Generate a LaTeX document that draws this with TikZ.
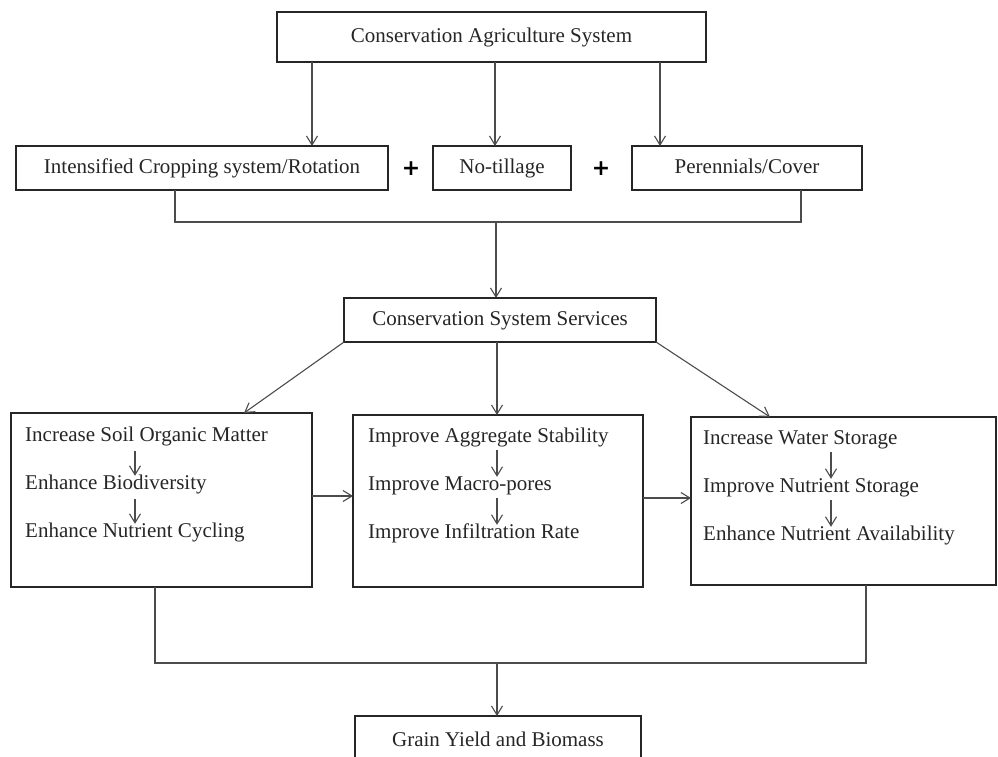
\documentclass[tikz,border=0pt]{standalone}
\usepackage{fontspec}
\setmainfont{Liberation Serif}
\newfontfamily\plusfont{DejaVu Sans}
\usetikzlibrary{arrows.meta,calc}
\begin{document}
\begin{tikzpicture}[x=1pt,y=-1pt,
  box/.style={draw=black!85,line width=1.8pt,fill=white,inner sep=0pt,outer sep=0pt,anchor=north west,
    font=\fontsize{21}{25}\selectfont,text=black!85,text height=14pt,text depth=4pt},
  item/.style={anchor=west,inner sep=0pt,font=\fontsize{21}{25}\selectfont,text=black!85,text height=14pt,text depth=4pt},
  conn/.style={draw=black!70,line width=1.1pt},
  arr/.style={conn,-{Straight Barb[length=9pt,width=11pt,line width=1.1pt]}},
  plus/.style={inner sep=0pt,font=\plusfont\bfseries\fontsize{22}{22}\selectfont}]
\useasboundingbox (0,0) rectangle (998,756);
\clip (0,0) rectangle (998,756);
% boxes
\node[box,minimum width=429pt,minimum height=50pt] (top) at (277,12) {Conservation Agriculture System};
\node[box,minimum width=372pt,minimum height=44pt] (crop) at (16,146) {Intensified Cropping system/Rotation};
\node[box,minimum width=138pt,minimum height=44pt] (notill) at (433,146) {No-tillage};
\node[box,minimum width=230pt,minimum height=44pt] (peren) at (632,146) {Perennials/Cover};
\node[plus] (p1) at (411,169) {+};
\node[plus] (p2) at (601,169) {+};
\node[box,minimum width=312pt,minimum height=44pt] (svc) at (344,298) {Conservation System Services};
\node[box,minimum width=301pt,minimum height=174pt] (b1) at (11,413) {};
\node[box,minimum width=290pt,minimum height=172pt] (b2) at (353,415) {};
\node[box,minimum width=305pt,minimum height=168pt] (b3) at (691,417) {};
\node[box,minimum width=286pt,minimum height=50pt] (grain) at (355,716) {Grain Yield and Biomass};
% items
\node[item] (a1) at (25,436) {Increase Soil Organic Matter};
\node[item] (a2) at (25,484) {Enhance Biodiversity};
\node[item] (a3) at (25,532) {Enhance Nutrient Cycling};
\node[item] (m1) at (368,437) {Improve Aggregate Stability};
\node[item] (m2) at (368,485) {Improve Macro-pores};
\node[item] (m3) at (368,533) {Improve Infiltration Rate};
\node[item] (r1) at (703,439) {Increase Water Storage};
\node[item] (r2) at (703,487) {Improve Nutrient Storage};
\node[item] (r3) at (703,535) {Enhance Nutrient Availability};
% helper coordinates
\coordinate (c1) at (312,0);
\coordinate (c2) at (495,0);
\coordinate (c3) at (660,0);
\coordinate (bl) at (175,222);
\coordinate (br) at (801,222);
\coordinate (bm) at (496,222);
\coordinate (d1) at (244,0);
\coordinate (dm) at (497,0);
\coordinate (d3) at (770,0);
\coordinate (h1) at (0,496);
\coordinate (h2) at (0,498);
\coordinate (ax) at (135,0);
\coordinate (mx) at (497,0);
\coordinate (rx) at (831,0);
\coordinate (gl) at (155,663);
\coordinate (gr) at (866,663);
\coordinate (gm) at (497,663);
% connectors
\draw[arr] (top.south -| c1) -- (crop.north -| c1);
\draw[arr] (top.south -| c2) -- (notill.north -| c2);
\draw[arr] (top.south -| c3) -- (peren.north -| c3);
\draw[conn] (crop.south -| bl) -- (bl) -- (br) -- (peren.south -| br);
\draw[arr] (bm) -- (svc.north -| bm);
\draw[arr] (svc.south west) -- (b1.north -| d1);
\draw[arr] (svc.south -| dm) -- (b2.north -| dm);
\draw[arr] (svc.south east) -- (b3.north -| d3);
\draw[arr] (b1.east |- h1) -- (b2.west |- h1);
\draw[arr] (b2.east |- h2) -- (b3.west |- h2);
\draw[arr] ([yshift=-6pt]a1.south -| ax) -- ([yshift=-1pt]a2.north -| ax);
\draw[arr] ([yshift=-6pt]a2.south -| ax) -- ([yshift=-1pt]a3.north -| ax);
\draw[arr] ([yshift=-4pt]m1.south -| mx) -- ([yshift=-1pt]m2.north -| mx);
\draw[arr] ([yshift=-4pt]m2.south -| mx) -- ([yshift=-1pt]m3.north -| mx);
\draw[arr] ([yshift=-4pt]r1.south -| rx) -- ([yshift=-1pt]r2.north -| rx);
\draw[arr] ([yshift=-4pt]r2.south -| rx) -- ([yshift=-1pt]r3.north -| rx);
\draw[conn] (b1.south -| gl) -- (gl) -- (gr) -- (b3.south -| gr);
\draw[arr] (gm) -- (grain.north -| gm);
\end{tikzpicture}
\end{document}
